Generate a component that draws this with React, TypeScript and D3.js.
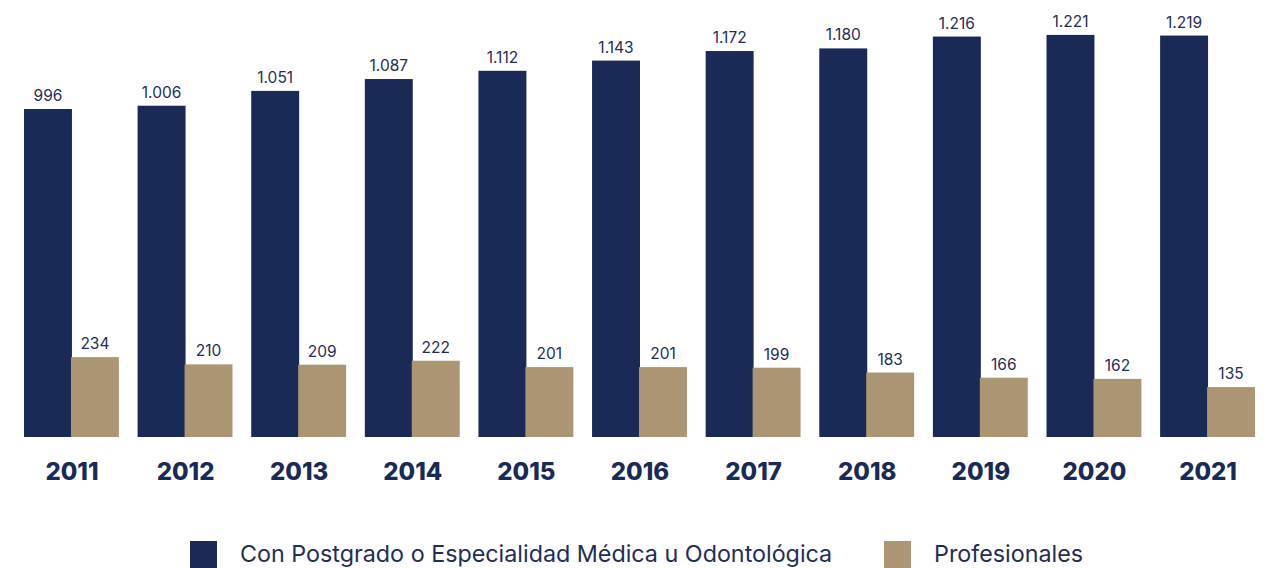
import React from "react";
import * as d3 from "d3";

const years = ["2011", "2012", "2013", "2014", "2015", "2016", "2017", "2018", "2019", "2020", "2021"];
const postgrado = [996, 1006, 1051, 1087, 1112, 1143, 1172, 1180, 1216, 1221, 1219];
const profesionales = [234, 210, 209, 222, 201, 201, 199, 183, 166, 162, 135];
const seriesNames = ["Con Postgrado o Especialidad Médica u Odontológica", "Profesionales"];
const colors = ["#192a56", "#ab9572"];

const W = 1273;
const H = 568;
const baseY = 437;

// dots as thousands separator, like the source
const fmt = (v: number) => d3.format(",")(v).replace(/,/g, ".");

export default function App() {
  const x = d3.scaleBand().domain(years).range([24, 1256]).paddingInner(0.156).paddingOuter(0);
  const sub = d3.scaleBand().domain(["a", "b"]).range([0, x.bandwidth()]).padding(0);
  // the source draws each series on its own scale
  const y1 = d3.scaleLinear().domain([0, 1327]).range([baseY, 0]);
  const y2 = d3.scaleLinear().domain([-30, 1414]).range([baseY, 0]);
  const scales = [y1, y2];

  const series = [postgrado, profesionales];
  const font = "Inter, 'Noto Sans', sans-serif";

  return (
    <svg
      width={W}
      height={H}
      style={{ position: "absolute", left: 0, top: 0, background: "#fff" }}
      fontFamily={font}
    >
      {years.map((yr, i) => (
        <g key={yr} transform={`translate(${x(yr)},0)`}>
          {series.map((vals, s) => {
            const y = scales[s];
            const bx = sub(s === 0 ? "a" : "b")! - (s === 1 ? 1 : 0);
            const v = vals[i];
            return (
              <g key={s}>
                <rect x={bx} y={y(v)} width={sub.bandwidth()} height={baseY - y(v)} fill={colors[s]} />
                <text
                  x={bx + sub.bandwidth() / 2}
                  y={y(v) - 8}
                  textAnchor="middle"
                  fontSize={15.5}
                  fill="#1f2d57"
                >
                  {fmt(v)}
                </text>
              </g>
            );
          })}
          <text
            x={x.bandwidth() / 2}
            y={480}
            textAnchor="middle"
            fontSize={24}
            fontWeight={800}
            fill="#192a56"
          >
            {yr}
          </text>
        </g>
      ))}
      {seriesNames.map((name, s) => {
        const lx = s === 0 ? 190 : 884;
        return (
          <g key={name} transform={`translate(${lx},541)`}>
            <rect width={27} height={27} fill={colors[s]} />
            <text x={50} y={21} fontSize={23.3} fill="#1f2d57">
              {name}
            </text>
          </g>
        );
      })}
    </svg>
  );
}
